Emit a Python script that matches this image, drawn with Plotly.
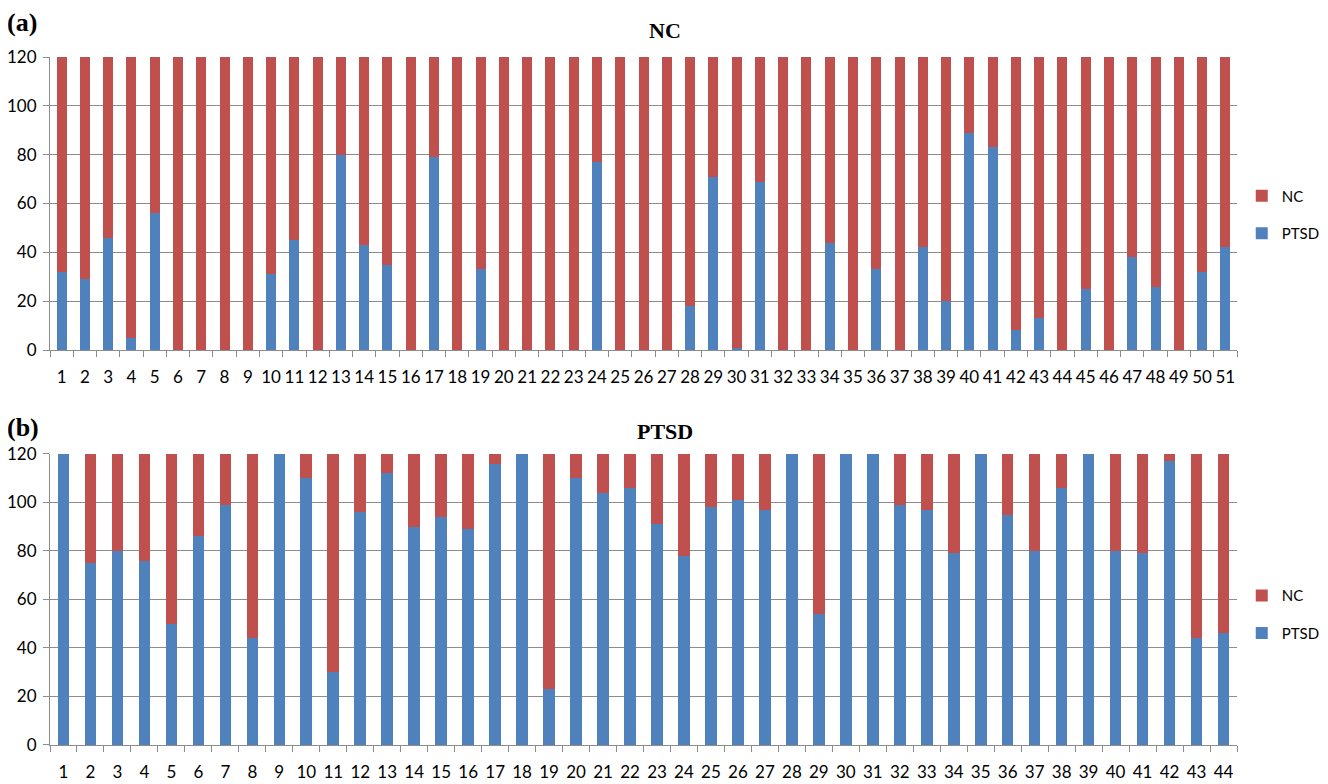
import plotly.graph_objects as go

# ---- data ----
nc_subjects = [str(i) for i in range(1, 52)]
nc_ptsd_votes = [32, 29, 46, 5, 56, 0, 0, 0, 0, 31, 45, 0, 80, 43, 35, 0, 79, 0, 33, 0,
                 0, 0, 0, 77, 0, 0, 0, 18, 71, 1, 69, 0, 0, 44, 0, 33, 0, 42, 20, 89,
                 83, 8, 13, 0, 25, 0, 38, 26, 0, 32, 42]
nc_nc_votes = [120 - v for v in nc_ptsd_votes]

ptsd_subjects = [str(i) for i in range(1, 45)]
ptsd_ptsd_votes = [120, 75, 80, 76, 50, 86, 99, 44, 120, 110, 30, 96, 112, 90, 94, 89, 116, 120, 23, 110,
                   104, 106, 91, 78, 98, 101, 97, 120, 54, 120, 120, 99, 97, 79, 120, 95, 80, 106, 120, 80,
                   79, 117, 44, 46]
ptsd_nc_votes = [120 - v for v in ptsd_ptsd_votes]

y_ticks = [0, 20, 40, 60, 80, 100, 120]

RED = "#C0504D"
BLUE = "#4F81BD"
GRID = "#8C8C8C"
SANS = "Lato, Liberation Sans, sans-serif"
SERIF = "Liberation Serif, Times New Roman, serif"
TICKFONT = dict(family=SANS, size=17, color="#000000")

fig = go.Figure()

# top panel (NC)
fig.add_trace(go.Bar(x=nc_subjects, y=nc_ptsd_votes, name="PTSD", marker_color=BLUE,
                     xaxis="x", yaxis="y", legend="legend", legendgroup="a2", legendrank=2))
fig.add_trace(go.Bar(x=nc_subjects, y=nc_nc_votes, name="NC", marker_color=RED,
                     xaxis="x", yaxis="y", legend="legend", legendgroup="a1", legendrank=1))
# bottom panel (PTSD)
fig.add_trace(go.Bar(x=ptsd_subjects, y=ptsd_ptsd_votes, name="PTSD", marker_color=BLUE,
                     xaxis="x2", yaxis="y2", legend="legend2", legendgroup="b2", legendrank=2))
fig.add_trace(go.Bar(x=ptsd_subjects, y=ptsd_nc_votes, name="NC", marker_color=RED,
                     xaxis="x2", yaxis="y2", legend="legend2", legendgroup="b1", legendrank=1))

fig.update_traces(marker_line_width=0)

axis_common_x = dict(type="category", showgrid=False, showline=True, linecolor=GRID, linewidth=1,
                     ticks="outside", tickson="boundaries", ticklen=6, tickcolor=GRID, tickangle=0,
                     tickfont=TICKFONT, ticklabelstandoff=12, domain=[0, 1], automargin=False)
axis_common_y = dict(range=[0, 120], tickvals=y_ticks, showgrid=True, gridcolor=GRID, gridwidth=1,
                     showline=True, linecolor=GRID, linewidth=1, ticks="outside", ticklen=6,
                     tickcolor=GRID, tickfont=TICKFONT, zeroline=False, ticklabelstandoff=3,
                     automargin=False)

legend_common = dict(x=1.004, xanchor="left", yanchor="top", traceorder="grouped",
                     tracegroupgap=15, font=dict(family=SANS, size=15, color="#000000"),
                     bgcolor="rgba(0,0,0,0)", itemwidth=30)

fig.update_layout(
    width=1320, height=776,
    margin=dict(l=42, r=91, t=49, b=39, autoexpand=False),
    paper_bgcolor="white", plot_bgcolor="white",
    barmode="stack", bargap=0.57,
    showlegend=True,
    xaxis=dict(**axis_common_x, anchor="y"),
    yaxis=dict(**axis_common_y, domain=[0.5741, 1], anchor="x"),
    xaxis2=dict(**axis_common_x, anchor="y2"),
    yaxis2=dict(**axis_common_y, domain=[0, 0.4230], anchor="x2"),
    legend=dict(**legend_common, y=0.822),
    legend2=dict(**legend_common, y=0.241),
    annotations=[
        dict(text="<b>NC</b>", x=0.518, y=1.039, xref="paper", yref="paper", showarrow=False,
             yanchor="middle", font=dict(family=SERIF, size=22, color="#000000")),
        dict(text="<b>PTSD</b>", x=0.518, y=0.455, xref="paper", yref="paper", showarrow=False,
             yanchor="middle", font=dict(family=SERIF, size=22, color="#000000")),
        dict(text="<b>(a)</b>", x=-0.0375, y=1.050, xref="paper", yref="paper", showarrow=False,
             xanchor="left", yanchor="middle", font=dict(family=SERIF, size=26, color="#000000")),
        dict(text="<b>(b)</b>", x=-0.0375, y=0.461, xref="paper", yref="paper", showarrow=False,
             xanchor="left", yanchor="middle", font=dict(family=SERIF, size=26, color="#000000")),
    ],
)

fig.write_html("out.html")
